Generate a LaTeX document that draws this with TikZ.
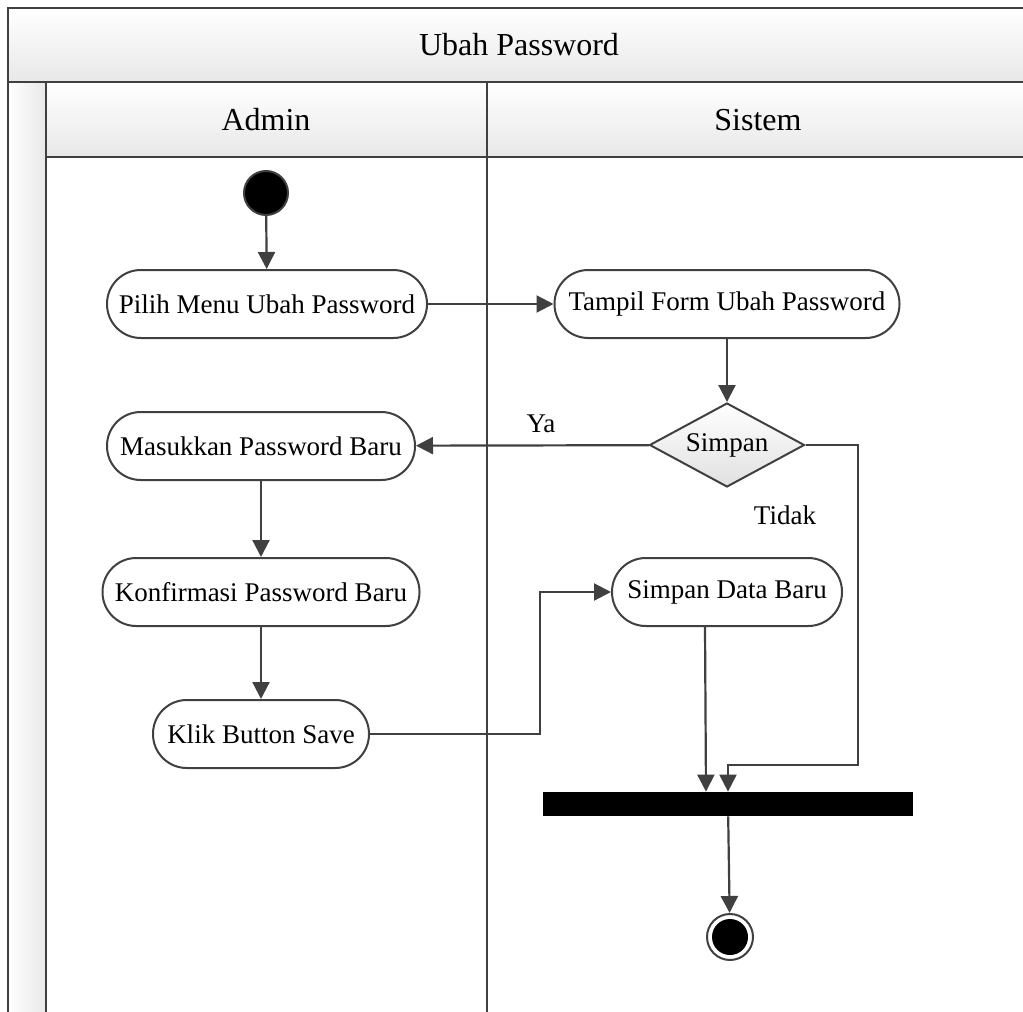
\documentclass[tikz,border=0pt]{standalone}
\usepackage{fontspec}
\setmainfont{Liberation Serif}
\usetikzlibrary{arrows.meta,shapes.geometric,positioning}
\colorlet{penColor}{black!75}
\colorlet{laneFill}{black!9}
\tikzset{>={Triangle[length=8.5pt,width=8.5pt]},
  lane/.style={draw=penColor,line width=1pt},
  head/.style={lane,top color=white,bottom color=laneFill},
  action/.style={draw=penColor,line width=1pt,fill=white,rectangle,
    rounded corners=16.9pt,minimum height=34pt,inner sep=0pt,
    font=\fontsize{13.5}{16}\selectfont},
  decision/.style={draw=penColor,line width=1pt,diamond,shape aspect=1.8,
    top color=white,bottom color=black!12,minimum width=77.5pt,
    minimum height=42pt,inner sep=0pt,font=\fontsize{13.5}{16}\selectfont},
  flow/.style={draw=penColor,line width=1.1pt,->},
  guard/.style={font=\fontsize{13.5}{16}\selectfont}}

\begin{document}
\begin{tikzpicture}[x=0.5pt,y=-0.5pt]
  \useasboundingbox (0,0) rectangle (1023,1012);
  \clip (0,0) rectangle (1023,1012);

  % swimlanes
  \draw[head] (8,8) rectangle (1040,82);
  \draw[lane,left color=white,right color=black!9] (8,82) rectangle (46,1040);
  \draw[head] (46,82) rectangle (487,157);
  \draw[head] (487,82) rectangle (1040,157);
  \draw[lane,fill=white] (46,157) rectangle (487,1040);
  \draw[lane,fill=white] (487,157) rectangle (1040,1040);
  \node[font=\fontsize{16}{19}\selectfont] (title) at (519,45) {Ubah Password};
  \node[font=\fontsize{16}{19}\selectfont] (admin) at (266,120) {Admin};
  \node[font=\fontsize{16}{19}\selectfont] (sistem) at (758,120) {Sistem};

  % activities
  \node[circle,draw=penColor,line width=1pt,fill=black,minimum size=22pt,
    inner sep=0pt] (start) at (266,193) {};
  \node[action,minimum width=160pt] (pilih) at (267,304) {Pilih Menu Ubah Password};
  \node[action,minimum width=172.5pt] (tampil) at (727,304) {Tampil Form Ubah Password};
  \node[decision] (simpan) at (727,445) {Simpan};
  \node[action,minimum width=154pt] (masuk) at (261,446) {Masukkan Password Baru};
  \node[action,minimum width=158.5pt] (konf) at (261,592) {Konfirmasi Password Baru};
  \node[action,minimum width=108pt] (klik) at (261,734) {Klik Button Save};
  \node[action,minimum width=115pt] (data) at (727,592) {Simpan Data Baru};
  \node[rectangle,fill=black,minimum width=185pt,minimum height=12pt,
    inner sep=0pt] (bar) at (728,804) {};
  \node[circle,draw=penColor,line width=1pt,fill=white,minimum size=23pt,
    inner sep=0pt] (end) at (730,937) {};
  \fill (end.center) circle (9pt);

  \coordinate (tidakTurn) at (858,765);
  \coordinate (klikTurn) at (540,734);

  % flows
  \draw[flow] (start) -- (pilih);
  \draw[flow] (pilih) -- (tampil);
  \draw[flow] (tampil) -- (simpan);
  \draw[flow] (simpan) -- (masuk);
  \draw[flow] (simpan.east) -| (tidakTurn) -| (bar.north);
  \draw[flow] (masuk) -- (konf);
  \draw[flow] (konf) -- (klik);
  \draw[flow] (klik) -- (klikTurn) |- (data);
  \draw[flow] ([xshift=-11pt]data.south) -- ([xshift=-11pt]bar.north);
  \draw[flow] (bar) -- (end);

  \node[guard] (ya) at (541,424) {Ya};
  \node[guard] (tidak) at (785,515) {Tidak};
\end{tikzpicture}
\end{document}
